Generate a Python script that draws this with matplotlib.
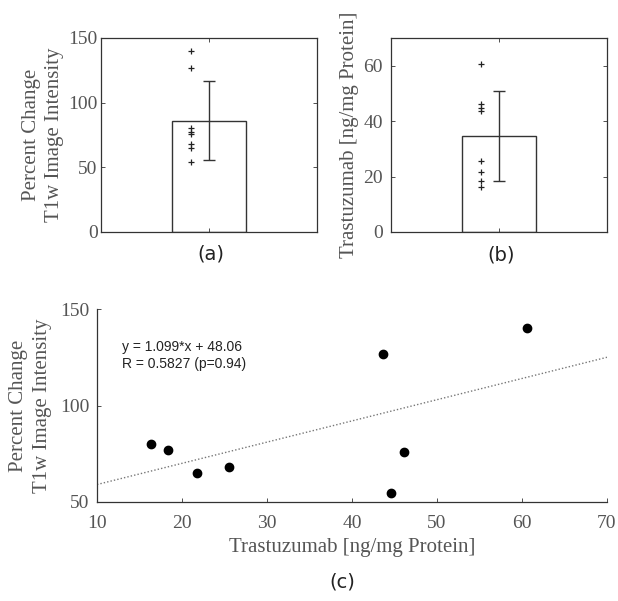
import numpy as np
import matplotlib
matplotlib.use("Agg")
import matplotlib.pyplot as plt

# Data
trastuzumab = [16.4, 18.3, 21.8, 25.5, 43.6, 44.6, 46.1, 60.6]
t1w_change = [80.3, 77.1, 64.9, 68.3, 126.7, 54.5, 76.1, 140.0]
t1w_mean, t1w_sd = 86.1, 30.3
tras_mean, tras_sd = 34.7, 16.2
fit_slope, fit_intercept = 1.099, 48.06
fit_text = "y = 1.099*x + 48.06\nR = 0.5827 (p=0.94)"

serif = "Liberation Serif"
lab_col = "#555555"
tick_col = "#555555"
edge = "#333333"

fig = plt.figure(figsize=(6.18, 6.01), dpi=100)

def style(ax, box=True, xpad=3.5, ypad=3.5):
    for s in ax.spines.values():
        s.set_color(edge)
        s.set_linewidth(0.9)
    if not box:
        ax.spines['top'].set_visible(False)
        ax.spines['right'].set_visible(False)
    ax.tick_params(direction='in', length=3, width=0.6, color=edge,
                   labelcolor=tick_col, labelsize=14, top=box, right=box)
    ax.tick_params(axis='x', pad=xpad)
    ax.tick_params(axis='y', pad=ypad)
    for lab in ax.get_xticklabels() + ax.get_yticklabels():
        lab.set_fontfamily(serif)

def bar_panel(ax, vals, mean, sd, ylim, yticks, ylabel, ypad, lpad):
    ax.bar([1], [mean], width=0.338, color='white', edgecolor=edge, linewidth=1.0, zorder=1)
    ax.plot([1 - 0.083] * len(vals), vals, linestyle='none', marker='+',
            markersize=4, markeredgewidth=0.9, color='#222222', zorder=3)
    ax.errorbar([1], [mean], yerr=[sd], fmt='none', ecolor=edge, elinewidth=1.0,
                capsize=4.5, capthick=1.0, zorder=4)
    ax.set_xlim(0.5, 1.5)
    ax.set_ylim(*ylim)
    ax.set_yticks(yticks)
    ax.set_xticks([1])
    ax.set_xticklabels([''])
    ax.set_ylabel(ylabel, fontfamily=serif, fontsize=15, color=lab_col,
                  linespacing=1.3, labelpad=lpad)
    style(ax, ypad=ypad)

ax_a = fig.add_axes([101/618, 1 - 232/601, 216/618, 194/601])
bar_panel(ax_a, t1w_change, t1w_mean, t1w_sd, (0, 150), [0, 50, 100, 150],
          "Percent Change\nT1w Image Intensity", ypad=2.5, lpad=3)

ax_b = fig.add_axes([391/618, 1 - 232/601, 216/618, 194/601])
bar_panel(ax_b, trastuzumab, tras_mean, tras_sd, (0, 70), [0, 20, 40, 60],
          "Trastuzumab [ng/mg Protein]", ypad=6, lpad=3)

ax_c = fig.add_axes([97/618, 1 - 502/601, 510/618, 193/601])
xs = np.array([10, 70])
ax_c.plot(xs, fit_slope * xs + fit_intercept, linestyle=(0, (1, 1.5)), color='#777777', linewidth=1.0)
ax_c.plot(trastuzumab, t1w_change, linestyle='none', marker='o', markersize=6,
          color='black')
ax_c.set_xlim(10, 70)
ax_c.set_ylim(50, 150)
ax_c.set_xticks([10, 20, 30, 40, 50, 60, 70])
ax_c.set_yticks([50, 100, 150])
ax_c.set_xlabel("Trastuzumab [ng/mg Protein]", fontfamily=serif, fontsize=15,
                color=lab_col, labelpad=5)
ax_c.set_ylabel("Percent Change\nT1w Image Intensity", fontfamily=serif, fontsize=15,
                color=lab_col, linespacing=1.3, labelpad=6)
ax_c.text((122 - 97) / 510, (502 - 355.5) / 193, fit_text, transform=ax_c.transAxes,
          fontfamily="Liberation Sans", fontsize=10, color='#222222', va='center',
          linespacing=1.2)
style(ax_c, box=False, xpad=9, ypad=5.5)

fig.text(211/618, 1 - 254/601, "(a)", ha='center', va='center', fontsize=14, color='#222222')
fig.text(501/618, 1 - 255/601, "(b)", ha='center', va='center', fontsize=14, color='#222222')
fig.text(342/618, 1 - 582/601, "(c)", ha='center', va='center', fontsize=14, color='#222222')

fig.savefig("out.png", dpi=100)
